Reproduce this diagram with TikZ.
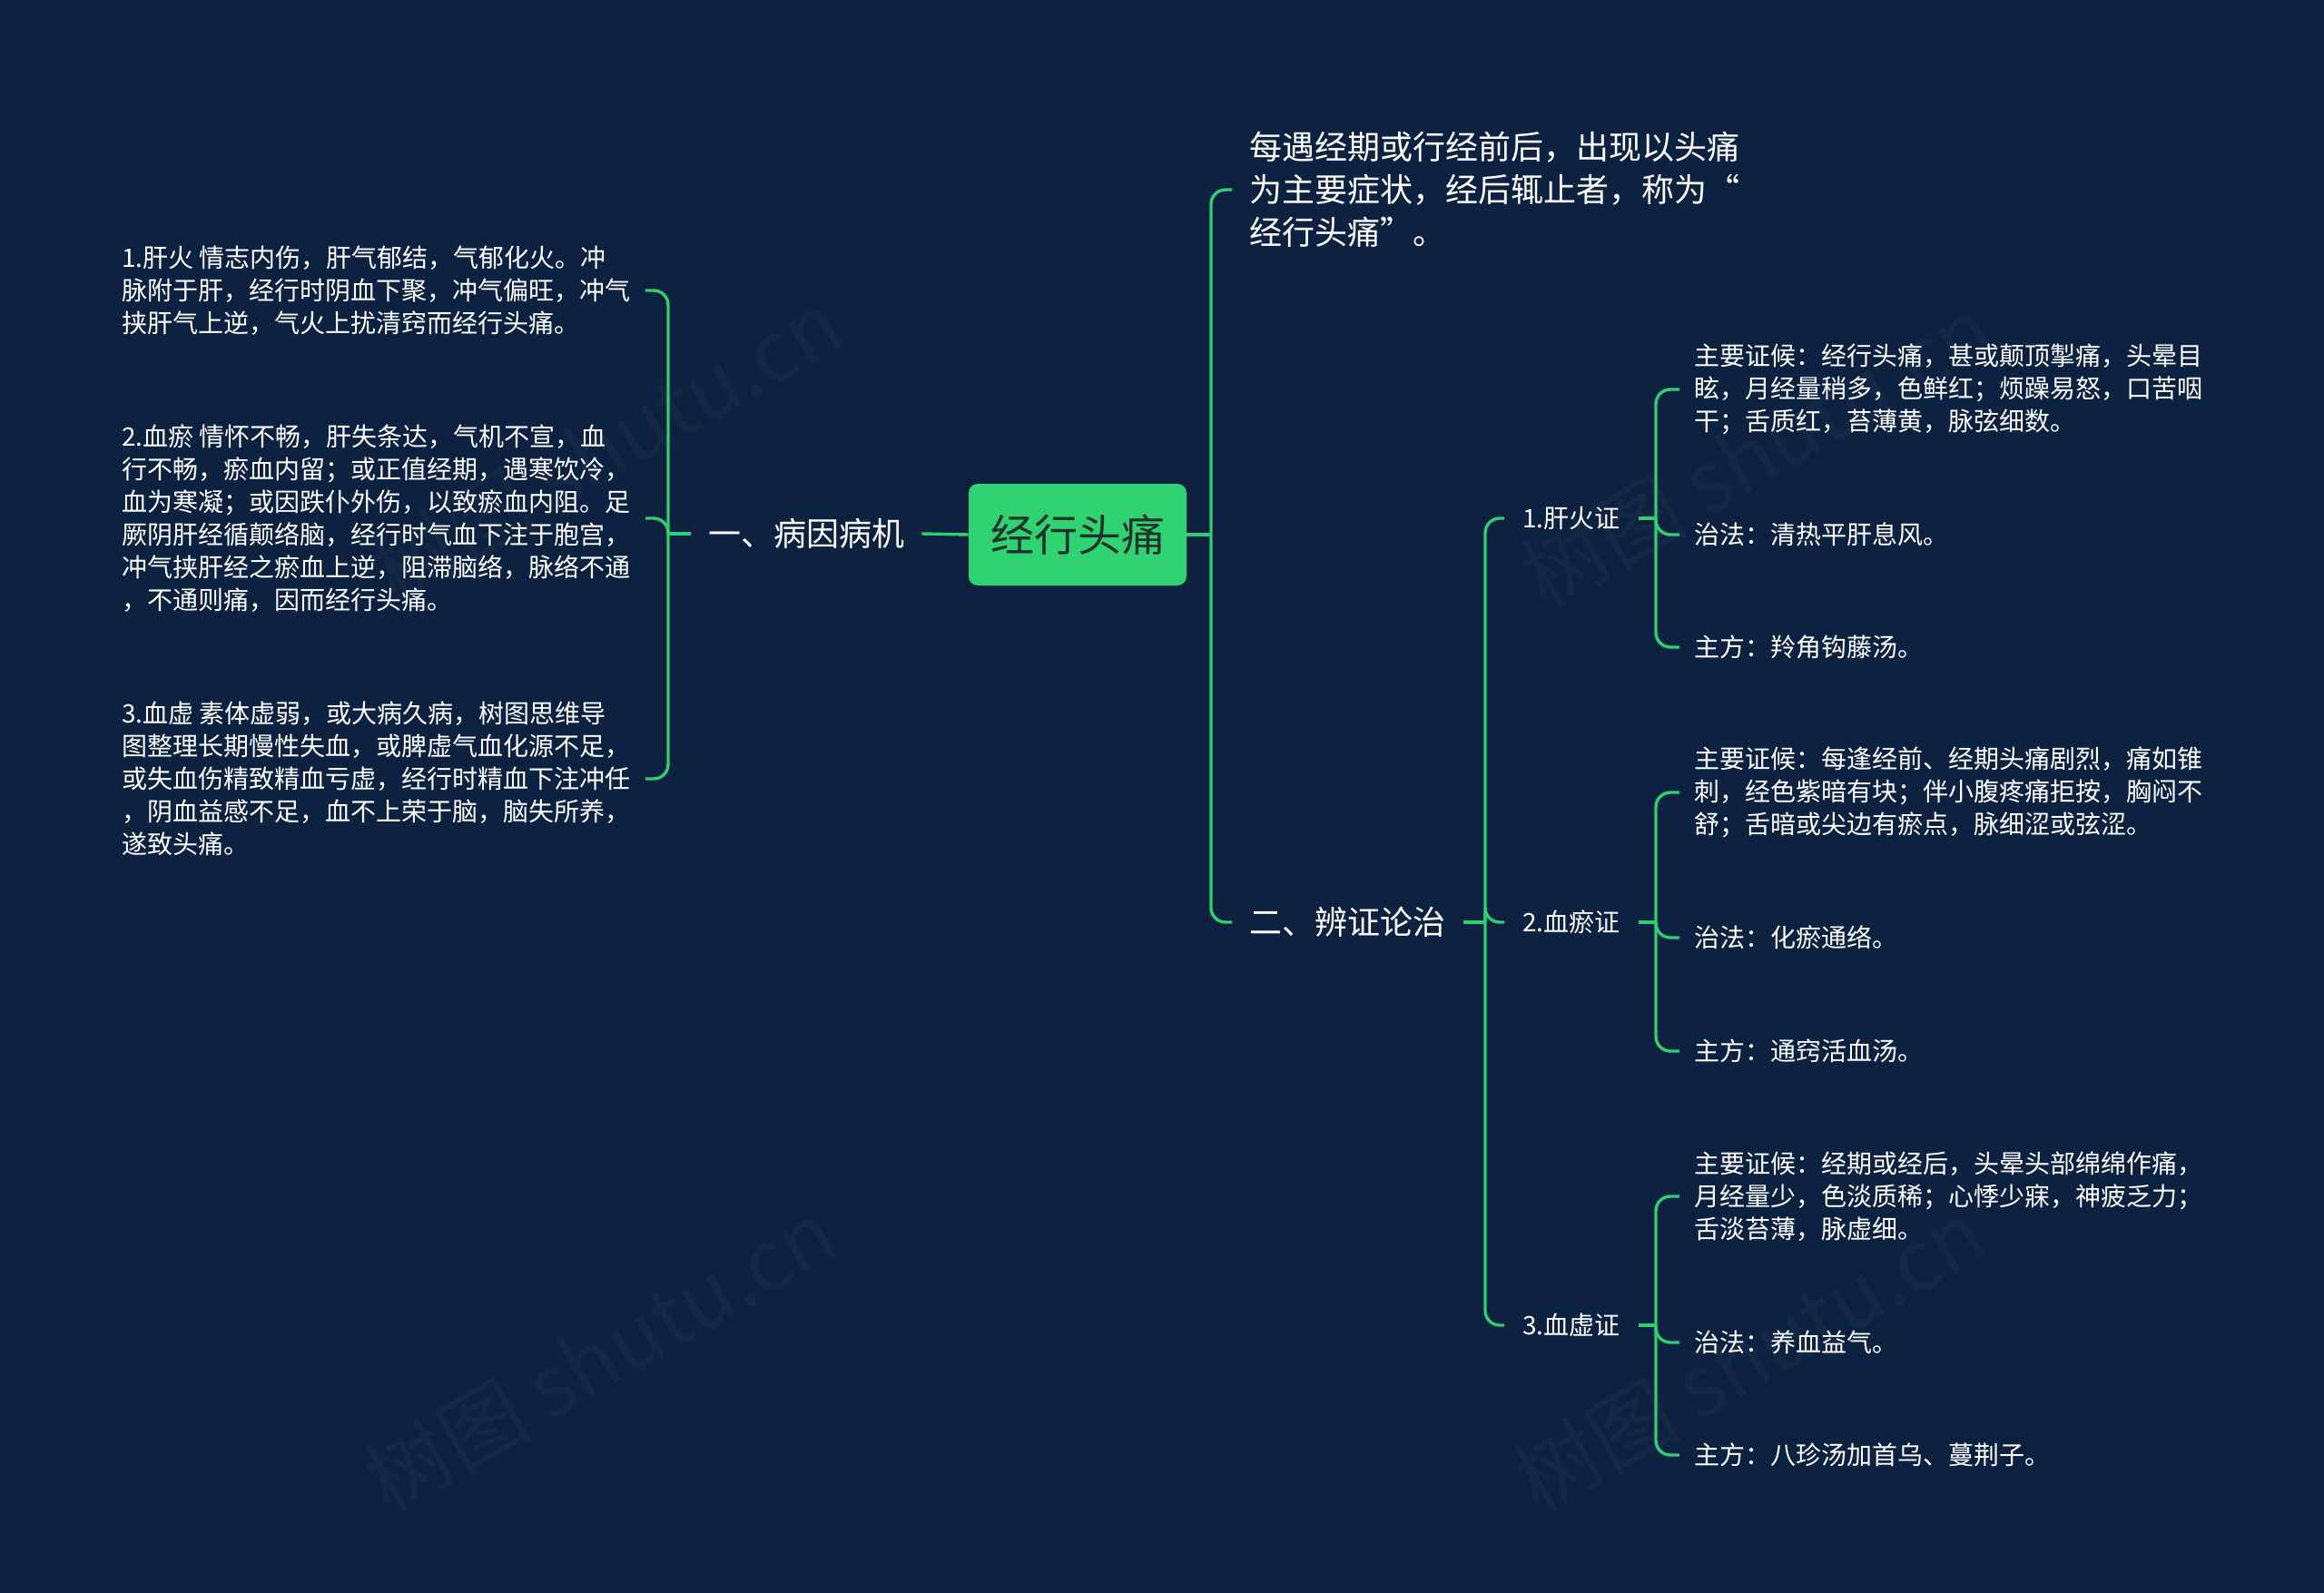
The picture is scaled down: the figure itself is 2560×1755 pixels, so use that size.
\documentclass[tikz,border=0pt]{standalone}
\usepackage{fontspec}
\setmainfont{Noto Sans CJK SC}
\definecolor{bg}{RGB}{13,34,64}
\definecolor{lc}{RGB}{48,206,112}
\definecolor{rootfill}{RGB}{48,210,114}
\definecolor{roottext}{RGB}{32,52,44}
\begin{document}
\begin{tikzpicture}[x=0.5pt,y=-0.5pt,
  conn/.style={draw=lc, line width=1.7pt},
  brace/.style={conn, rounded corners=8pt},
  leaf/.style={text=white, font=\fontsize{14pt}{18pt}\selectfont, align=left, inner xsep=8pt, inner ysep=2pt, anchor=west},
  mid/.style={text=white, font=\fontsize{18pt}{23.5pt}\selectfont, align=left, inner xsep=9.5pt, inner ysep=2pt},
  sub/.style={text=white, font=\fontsize{14pt}{18pt}\selectfont, inner xsep=10pt, inner ysep=2pt, anchor=west},
  wm/.style={text=white, opacity=0.03, rotate=30, font=\fontsize{46pt}{50pt}\selectfont}]
\fill[bg] (0,0) rectangle (2560,1755);
\useasboundingbox (0,0) rectangle (2560,1755);

% watermarks
\node[wm] (wm1) at (668,492) {树图 shutu.cn};
\node[wm] (wm2) at (661,1494) {树图 shutu.cn};
\node[wm] (wm3) at (1935,498) {树图 shutu.cn};
\node[wm] (wm4) at (1927,1494) {树图 shutu.cn};

% root
\node[fill=rootfill, rounded corners=5pt, minimum width=120pt, minimum height=56pt, text=roottext, font=\fontsize{24pt}{28pt}\selectfont, inner sep=0pt] (root) at (1187,589) {经行头痛};

% left branch
\node[mid, anchor=center] (b1) at (888,588) {一、病因病机};
\coordinate (lj) at (736,588);
\node[leaf] (l1) at (118,320) {1.肝火 情志内伤，肝气郁结，气郁化火。冲\\脉附于肝，经行时阴血下聚，冲气偏旺，冲气\\挟肝气上逆，气火上扰清窍而经行头痛。};
\node[leaf] (l2) at (118,571) {2.血瘀 情怀不畅，肝失条达，气机不宣，血\\行不畅，瘀血内留；或正值经期，遇寒饮冷，\\血为寒凝；或因跌仆外伤，以致瘀血内阻。足\\厥阴肝经循颠络脑，经行时气血下注于胞宫，\\冲气挟肝经之瘀血上逆，阻滞脑络，脉络不通\\，不通则痛，因而经行头痛。};
\node[leaf] (l3) at (118,858) {3.血虚 素体虚弱，或大病久病，树图思维导\\图整理长期慢性失血，或脾虚气血化源不足，\\或失血伤精致精血亏虚，经行时精血下注冲任\\，阴血益感不足，血不上荣于脑，脑失所养，\\遂致头痛。};
\draw[conn] (root.west) -- (b1.east);
\draw[conn] (b1.west) -- (lj);
\draw[brace] (lj) |- (l1.east);
\draw[brace] (lj) |- (l2.east);
\draw[brace] (lj) |- (l3.east);

% right branch
\coordinate (rj) at (1334,589);
\node[mid, anchor=west] (top) at (1357,209) {每遇经期或行经前后，出现以头痛\\为主要症状，经后辄止者，称为“\\经行头痛”。};
\node[mid, anchor=west] (b2) at (1357,1016) {二、辨证论治};
\draw[conn] (root.east) -- (rj);
\draw[brace] (rj) |- (top.west);
\draw[brace] (rj) |- (b2.west);

\coordinate (b2j) at (1636,1016);
\node[sub] (s1) at (1657,571) {1.肝火证};
\node[sub] (s2) at (1657,1016) {2.血瘀证};
\node[sub] (s3) at (1657,1460) {3.血虚证};
\draw[conn] (b2.east) -- (b2j);
\draw[brace] (b2j) |- (s1.west);
\draw[brace] (b2j) |- (s2.west);
\draw[brace] (b2j) |- (s3.west);

% group 1
\coordinate (s1j) at (1824,571);
\node[leaf] (a1) at (1850,429) {主要证候：经行头痛，甚或颠顶掣痛，头晕目\\眩，月经量稍多，色鲜红；烦躁易怒，口苦咽\\干；舌质红，苔薄黄，脉弦细数。};
\node[leaf] (a2) at (1850,589) {治法：清热平肝息风。};
\node[leaf] (a3) at (1850,713) {主方：羚角钩藤汤。};
\draw[conn] (s1.east) -- (s1j);
\draw[brace] (s1j) |- (a1.west);
\draw[brace] (s1j) |- (a2.west);
\draw[brace] (s1j) |- (a3.west);

% group 2
\coordinate (s2j) at (1824,1016);
\node[leaf] (c1) at (1850,873) {主要证候：每逢经前、经期头痛剧烈，痛如锥\\刺，经色紫暗有块；伴小腹疼痛拒按，胸闷不\\舒；舌暗或尖边有瘀点，脉细涩或弦涩。};
\node[leaf] (c2) at (1850,1033) {治法：化瘀通络。};
\node[leaf] (c3) at (1850,1158) {主方：通窍活血汤。};
\draw[conn] (s2.east) -- (s2j);
\draw[brace] (s2j) |- (c1.west);
\draw[brace] (s2j) |- (c2.west);
\draw[brace] (s2j) |- (c3.west);

% group 3
\coordinate (s3j) at (1824,1460);
\node[leaf] (d1) at (1850,1318) {主要证候：经期或经后，头晕头部绵绵作痛，\\月经量少，色淡质稀；心悸少寐，神疲乏力；\\舌淡苔薄，脉虚细。};
\node[leaf] (d2) at (1850,1479) {治法：养血益气。};
\node[leaf] (d3) at (1850,1603) {主方：八珍汤加首乌、蔓荆子。};
\draw[conn] (s3.east) -- (s3j);
\draw[brace] (s3j) |- (d1.west);
\draw[brace] (s3j) |- (d2.west);
\draw[brace] (s3j) |- (d3.west);
\end{tikzpicture}
\end{document}
